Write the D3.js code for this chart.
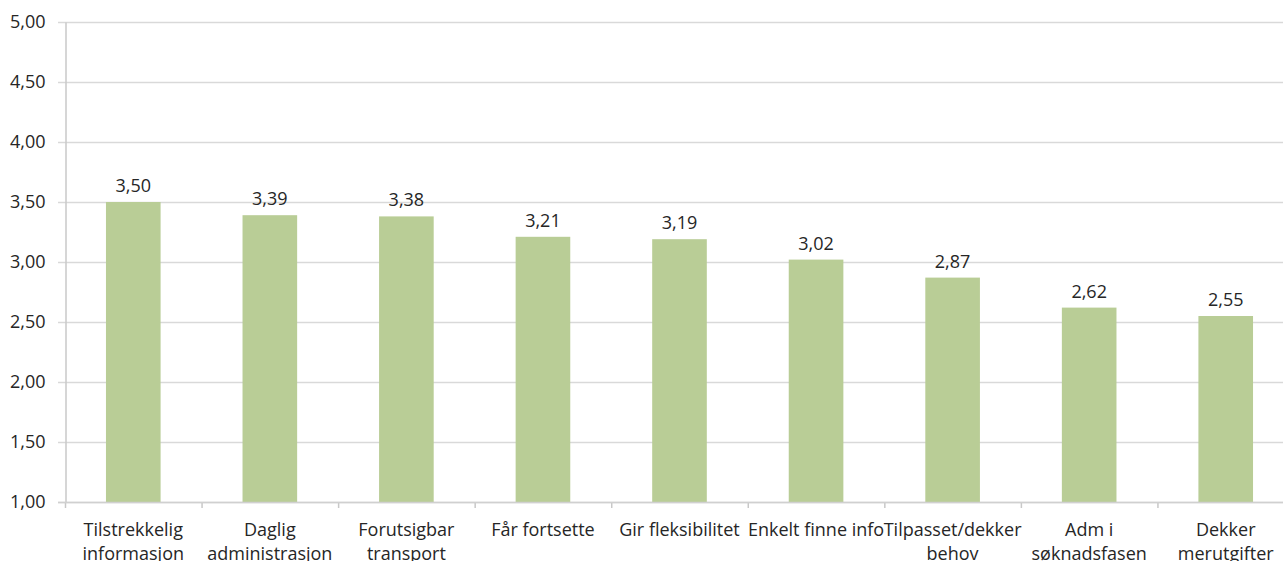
<!DOCTYPE html>
<html>
<head>
<meta charset="utf-8">
<script src="https://cdn.jsdelivr.net/npm/d3@7"></script>
<style>
  html, body { margin: 0; padding: 0; background: #fff; }
  svg { display: block; }
  text { font-family: "Open Sans", "Noto Sans", sans-serif; fill: #262626; }
</style>
</head>
<body>
<svg id="chart" width="1283" height="561"></svg>
<script>
// Mean scores per category
const categories = [
  "Tilstrekkelig informasjon",
  "Daglig administrasjon",
  "Forutsigbar transport",
  "Får fortsette",
  "Gir fleksibilitet",
  "Enkelt finne info",
  "Tilpasset/dekker behov",
  "Adm i søknadsfasen",
  "Dekker merutgifter"
];
const values = [3.50, 3.39, 3.38, 3.21, 3.19, 3.02, 2.87, 2.62, 2.55];
const yTicks = [1.0, 1.5, 2.0, 2.5, 3.0, 3.5, 4.0, 4.5, 5.0];

const svg = d3.select("#chart");
const plotLeft = 65, plotRight = 1294, plotTop = 22, plotBottom = 502;
const fontSize = 18;
const fmt = v => d3.format(".2f")(v).replace(".", ",");

const x = d3.scaleBand()
  .domain(categories)
  .range([plotLeft, plotRight])
  .paddingInner(0.6)
  .paddingOuter(0.3);

const y = d3.scaleLinear().domain([1, 5]).range([plotBottom, plotTop]);

// horizontal gridlines
svg.append("g")
  .selectAll("line")
  .data(yTicks)
  .join("line")
  .attr("x1", plotLeft - 7)
  .attr("x2", plotRight)
  .attr("y1", d => y(d) + 0.5)
  .attr("y2", d => y(d) + 0.5)
  .attr("stroke", "#d9d9d9")
  .attr("stroke-width", 1.5);

// y axis
const yAxis = svg.append("g")
  .attr("transform", `translate(${plotLeft + 0.5},0)`)
  .call(d3.axisLeft(y).tickValues(yTicks).tickFormat(fmt).tickSize(0).tickPadding(20));
yAxis.select(".domain").attr("stroke", "#c8c8c8").attr("stroke-width", 1.5);
yAxis.selectAll("text")
  .attr("font-size", fontSize)
  .attr("font-family", "'Open Sans', 'Noto Sans', sans-serif")
  .attr("fill", "#262626");

// category boundary ticks below the baseline
const step = x.step();
const boundaries = d3.range(categories.length + 1).map(i => plotLeft + i * step);
svg.append("g")
  .selectAll("line")
  .data(boundaries)
  .join("line")
  .attr("x1", d => d + 0.5)
  .attr("x2", d => d + 0.5)
  .attr("y1", plotBottom)
  .attr("y2", plotBottom + 6)
  .attr("stroke", "#c8c8c8")
  .attr("stroke-width", 1.5);

// bars
svg.append("g")
  .selectAll("rect")
  .data(values)
  .join("rect")
  .attr("x", (d, i) => x(categories[i]))
  .attr("width", x.bandwidth())
  .attr("y", d => y(d))
  .attr("height", d => y(1) - y(d))
  .attr("fill", "#b9cd96");

// baseline on top of bars
svg.append("line")
  .attr("x1", plotLeft - 7).attr("x2", plotRight)
  .attr("y1", plotBottom + 0.5).attr("y2", plotBottom + 0.5)
  .attr("stroke", "#d0d0d0").attr("stroke-width", 1.5);

// value labels
svg.append("g")
  .selectAll("text")
  .data(values)
  .join("text")
  .attr("x", (d, i) => x(categories[i]) + x.bandwidth() / 2)
  .attr("y", d => y(d) - 10)
  .attr("text-anchor", "middle")
  .attr("font-size", fontSize)
  .text(fmt);

// category labels, wrapped to the category width
const measure = svg.append("text").attr("font-size", fontSize).attr("visibility", "hidden");
function wrap(label, maxW) {
  const words = label.split(" ");
  const lines = [];
  let cur = "";
  for (const w of words) {
    const trial = cur ? cur + " " + w : w;
    measure.text(trial);
    if (cur && measure.node().getComputedTextLength() > maxW) {
      lines.push(cur);
      cur = w;
    } else {
      cur = trial;
    }
  }
  if (cur) lines.push(cur);
  return lines;
}

const catG = svg.append("g");
categories.forEach(c => {
  const lines = wrap(c, step + 8);
  const t = catG.append("text")
    .attr("x", x(c) + x.bandwidth() / 2)
    .attr("y", 536)
    .attr("text-anchor", "middle")
    .attr("font-size", fontSize);
  lines.forEach((ln, i) => {
    t.append("tspan")
      .attr("x", x(c) + x.bandwidth() / 2)
      .attr("dy", i === 0 ? 0 : 24)
      .text(ln);
  });
});
measure.remove();
</script>
</body>
</html>
